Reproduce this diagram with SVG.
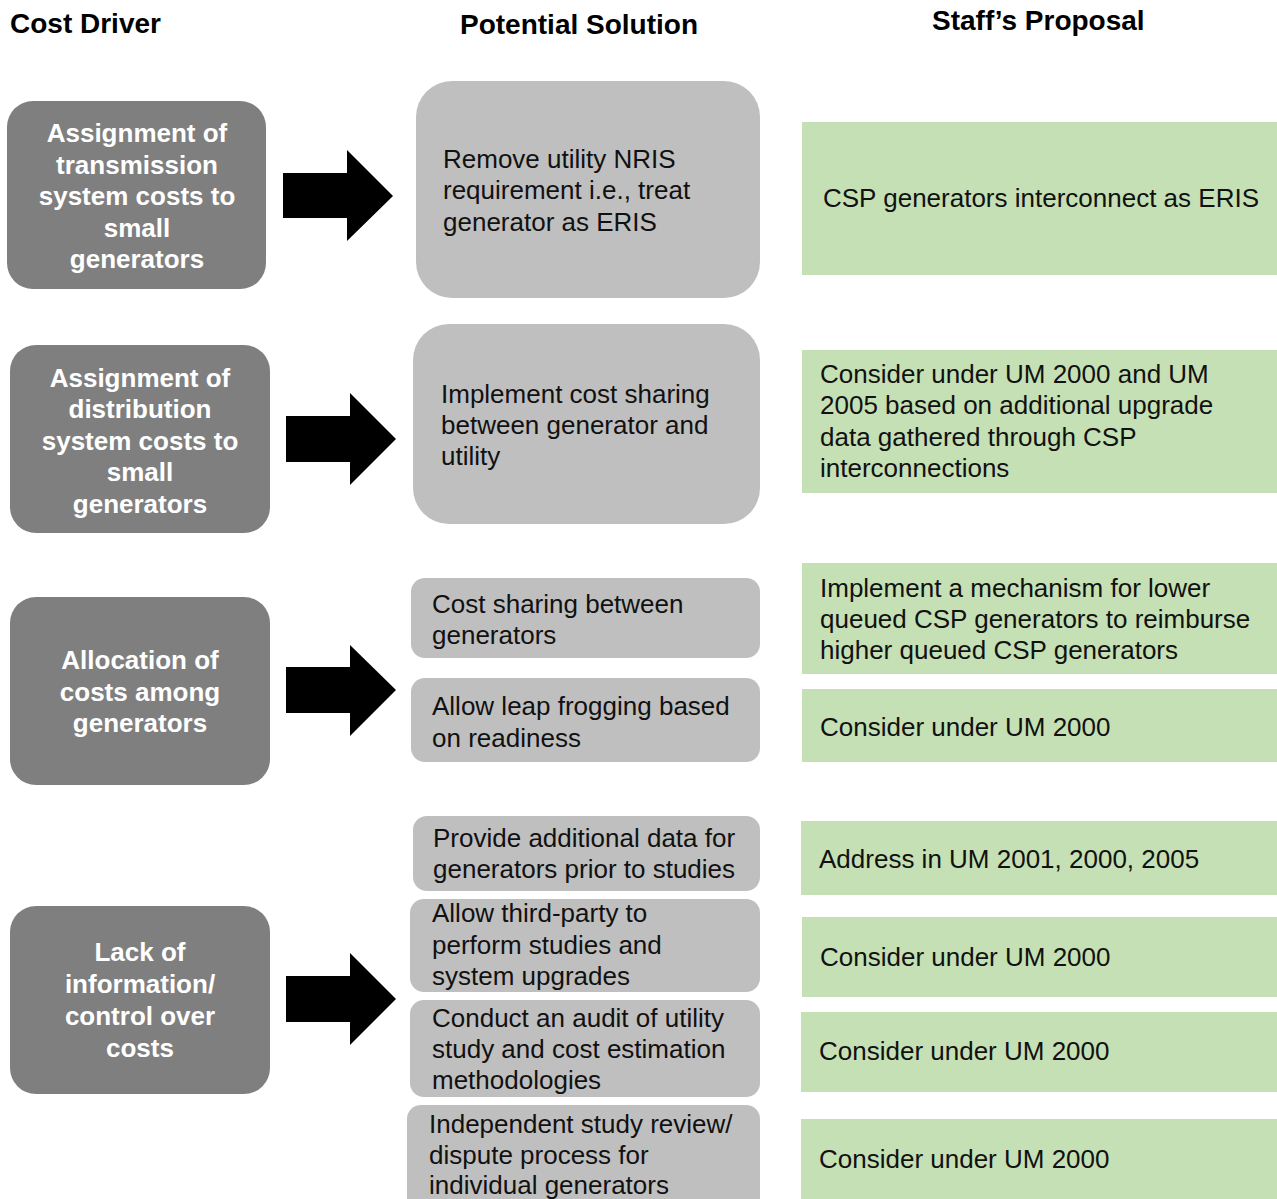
<svg xmlns="http://www.w3.org/2000/svg" width="1277" height="1199" viewBox="0 0 1277 1199">
<style>
  .hdr { font-family: "Liberation Sans", Arial, sans-serif; font-weight: bold; font-size: 28px; fill: #000; }
  .drv rect { fill: #7f7f7f; }
  .drv text { font-family: "Liberation Sans", Arial, sans-serif; font-weight: bold; font-size: 26px; fill: #ffffff; text-anchor: middle; }
  .sol rect { fill: #bfbfbf; }
  .sol text { font-family: "Liberation Sans", Arial, sans-serif; font-size: 26px; fill: #111; }
  .prop rect { fill: #c5e0b4; }
  .prop text { font-family: "Liberation Sans", Arial, sans-serif; font-size: 26px; fill: #111; }
  .arrow { fill: #000; }
</style>
<rect width="1277" height="1199" fill="#ffffff"/>

<g id="headers">
  <text class="hdr" x="10" y="33">Cost Driver</text>
  <text class="hdr" x="460" y="34">Potential Solution</text>
  <text class="hdr" x="932" y="30">Staff’s Proposal</text>
</g>

<!-- Cost drivers -->
<g id="driver-1" class="drv">
  <rect x="7" y="101" width="259" height="188" rx="26"/>
  <text x="137" y="142">Assignment of</text>
  <text x="137" y="174">transmission</text>
  <text x="137" y="205">system costs to</text>
  <text x="137" y="237">small</text>
  <text x="137" y="268">generators</text>
</g>
<g id="driver-2" class="drv">
  <rect x="10" y="345" width="260" height="188" rx="26"/>
  <text x="140" y="387">Assignment of</text>
  <text x="140" y="418">distribution</text>
  <text x="140" y="450">system costs to</text>
  <text x="140" y="481">small</text>
  <text x="140" y="513">generators</text>
</g>
<g id="driver-3" class="drv">
  <rect x="10" y="597" width="260" height="188" rx="26"/>
  <text x="140" y="669">Allocation of</text>
  <text x="140" y="701">costs among</text>
  <text x="140" y="732">generators</text>
</g>
<g id="driver-4" class="drv">
  <rect x="10" y="906" width="260" height="188" rx="26"/>
  <text x="140" y="961">Lack of</text>
  <text x="140" y="993">information/</text>
  <text x="140" y="1025">control over</text>
  <text x="140" y="1057">costs</text>
</g>

<!-- Connectors (block arrows) -->
<g id="connectors">
  <path class="arrow" d="M283,173 H347 V150 L393,196 L347,241 V218 H283 Z"/>
  <path class="arrow" d="M286,416 H350 V393 L396,439 L350,485 V462 H286 Z"/>
  <path class="arrow" d="M286,667 H350 V645 L396,690 L350,736 V713 H286 Z"/>
  <path class="arrow" d="M286,976 H350 V953 L396,999 L350,1045 V1022 H286 Z"/>
</g>

<!-- Potential solutions -->
<g id="solution-1" class="sol">
  <rect x="416" y="81" width="344" height="217" rx="36"/>
  <text x="443" y="168">Remove utility NRIS</text>
  <text x="443" y="199">requirement i.e., treat</text>
  <text x="443" y="231">generator as ERIS</text>
</g>
<g id="solution-2" class="sol">
  <rect x="413" y="324" width="347" height="200" rx="36"/>
  <text x="441" y="403">Implement  cost sharing</text>
  <text x="441" y="434">between  generator and</text>
  <text x="441" y="465">utility</text>
</g>
<g id="solution-3" class="sol">
  <rect x="411" y="578" width="349" height="80" rx="14"/>
  <text x="432" y="613">Cost sharing between</text>
  <text x="432" y="644">generators</text>
</g>
<g id="solution-4" class="sol">
  <rect x="411" y="678" width="349" height="84" rx="14"/>
  <text x="432" y="715">Allow leap frogging based</text>
  <text x="432" y="747">on readiness</text>
</g>
<g id="solution-5" class="sol">
  <rect x="413" y="816" width="347" height="75" rx="14"/>
  <text x="433" y="847">Provide additional data for</text>
  <text x="433" y="878">generators prior to studies</text>
</g>
<g id="solution-6" class="sol">
  <rect x="410" y="899" width="350" height="93" rx="14"/>
  <text x="432" y="922">Allow third-party to</text>
  <text x="432" y="954">perform studies and</text>
  <text x="432" y="985">system upgrades</text>
</g>
<g id="solution-7" class="sol">
  <rect x="410" y="1000" width="350" height="97" rx="14"/>
  <text x="432" y="1027">Conduct an audit of utility</text>
  <text x="432" y="1058">study and cost estimation</text>
  <text x="432" y="1089">methodologies</text>
</g>
<g id="solution-8" class="sol">
  <rect x="407" y="1105" width="353" height="110" rx="14"/>
  <text x="429" y="1133">Independent study review/</text>
  <text x="429" y="1164">dispute process for</text>
  <text x="429" y="1194">individual generators</text>
</g>

<!-- Staff's proposals -->
<g id="proposal-1" class="prop">
  <rect x="802" y="122" width="476" height="153"/>
  <text x="823" y="207">CSP generators interconnect as ERIS</text>
</g>
<g id="proposal-2" class="prop">
  <rect x="802" y="350" width="476" height="143"/>
  <text x="820" y="383">Consider under UM 2000 and UM</text>
  <text x="820" y="414">2005 based on additional upgrade</text>
  <text x="820" y="446">data gathered through CSP</text>
  <text x="820" y="477">interconnections</text>
</g>
<g id="proposal-3" class="prop">
  <rect x="802" y="563" width="476" height="111"/>
  <text x="820" y="597">Implement  a mechanism for lower</text>
  <text x="820" y="628">queued CSP generators to reimburse</text>
  <text x="820" y="659">higher queued CSP generators</text>
</g>
<g id="proposal-4" class="prop">
  <rect x="802" y="689" width="476" height="73"/>
  <text x="820" y="736">Consider under UM 2000</text>
</g>
<g id="proposal-5" class="prop">
  <rect x="801" y="821" width="477" height="74"/>
  <text x="819" y="868">Address in UM 2001, 2000, 2005</text>
</g>
<g id="proposal-6" class="prop">
  <rect x="802" y="917" width="476" height="80"/>
  <text x="820" y="966">Consider under UM 2000</text>
</g>
<g id="proposal-7" class="prop">
  <rect x="801" y="1012" width="477" height="80"/>
  <text x="819" y="1060">Consider under UM 2000</text>
</g>
<g id="proposal-8" class="prop">
  <rect x="801" y="1119" width="477" height="90"/>
  <text x="819" y="1168">Consider under UM 2000</text>
</g>
</svg>
